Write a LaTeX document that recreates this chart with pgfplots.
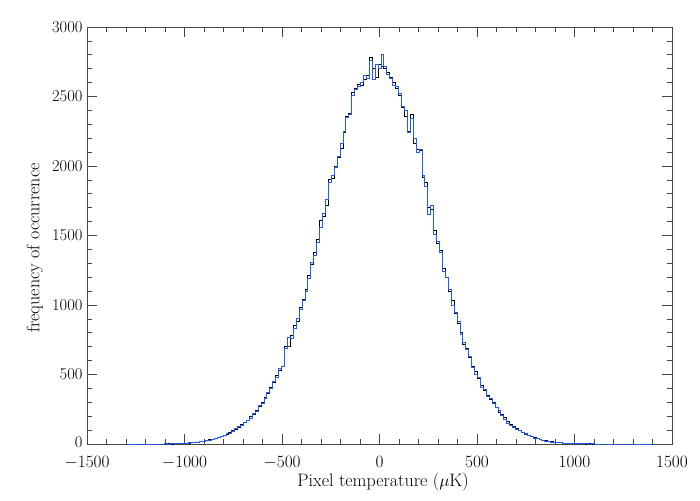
\documentclass[border=0pt]{standalone}
\usepackage{pgfplots}
\pgfplotsset{compat=1.18}
\definecolor{histBlue}{RGB}{30,90,255}
\definecolor{axGray}{RGB}{70,70,70}

% black histogram: bin centre, count
\pgfplotstableread{
x y
-1110 0
-1095 0
-1080 1
-1065 0
-1050 1
-1035 2
-1020 2
-1005 3
-990 5
-975 7
-960 10
-945 12
-930 15
-915 18
-900 20
-885 24
-870 30
-855 35
-840 40
-825 47
-810 53
-795 62
-780 70
-765 80
-750 95
-735 106
-720 118
-705 138
-690 152
-675 170
-660 195
-645 214
-630 245
-615 268
-600 300
-585 335
-570 362
-555 405
-540 440
-525 492
-510 530
-495 556
-480 700
-465 705
-450 780
-435 850
-420 880
-405 980
-390 1040
-375 1110
-360 1210
-345 1290
-330 1380
-315 1470
-300 1610
-285 1640
-270 1720
-255 1900
-240 1910
-225 2000
-210 2060
-195 2130
-180 2240
-165 2360
-150 2380
-135 2530
-120 2560
-105 2590
-90 2580
-75 2620
-60 2650
-45 2780
-30 2700
-15 2640
0 2730
15 2720
30 2700
45 2670
60 2640
75 2600
90 2560
105 2510
120 2420
135 2360
150 2250
165 2370
180 2160
195 2120
210 2110
225 1920
240 1880
255 1700
270 1690
285 1540
300 1440
315 1390
330 1260
345 1200
360 1100
375 1030
390 940
405 870
420 800
435 720
450 690
465 620
480 560
495 520
510 470
525 420
540 385
555 350
570 320
585 300
600 260
615 230
630 210
645 190
660 160
675 140
690 125
705 110
720 98
735 82
750 72
765 62
780 52
795 45
810 38
825 33
840 28
855 24
870 20
885 17
900 14
915 11
930 9
945 7
960 6
975 4
990 3
1005 3
1020 2
1035 1
1050 1
1065 0
1080 1
1095 0
1110 0
}\blackhist

% blue histogram: bin centre, count
\pgfplotstableread{
x y
-1290 0
-1110 0
-1095 1
-1080 0
-1065 1
-1050 2
-1035 1
-1020 3
-1005 4
-990 6
-975 8
-960 9
-945 14
-930 13
-915 17
-900 22
-885 27
-870 28
-855 33
-840 43
-825 45
-810 57
-795 60
-780 74
-765 78
-750 90
-735 110
-720 124
-705 133
-690 157
-675 168
-660 186
-645 222
-630 236
-615 275
-600 292
-585 328
-570 370
-555 398
-540 452
-525 480
-510 545
-495 560
-480 690
-465 770
-450 760
-435 835
-420 900
-405 965
-390 1030
-375 1100
-360 1190
-345 1310
-330 1360
-315 1450
-300 1560
-285 1660
-270 1760
-255 1880
-240 1930
-225 1990
-210 2070
-195 2160
-180 2250
-165 2350
-150 2370
-135 2510
-120 2550
-105 2575
-90 2600
-75 2650
-60 2630
-45 2760
-30 2620
-15 2730
0 2700
15 2800
30 2720
45 2660
60 2630
75 2580
90 2570
105 2520
120 2430
135 2400
150 2240
165 2340
180 2200
195 2100
210 2120
225 1930
240 1850
255 1650
270 1720
285 1510
300 1460
315 1380
330 1240
345 1200
360 1110
375 1000
390 950
405 880
420 790
435 730
450 680
465 630
480 550
495 500
510 480
525 410
540 390
555 340
570 330
585 290
600 265
615 240
630 205
645 180
660 150
675 135
690 120
705 104
720 95
735 80
750 74
765 60
780 55
795 43
810 40
825 30
840 27
855 22
870 20
885 15
900 13
915 12
930 8
945 7
960 5
975 5
990 4
1005 2
1020 2
1035 1
1050 1
1065 1
1080 0
1095 1
1110 0
1395 0
}\bluehist

\begin{document}
\begin{tikzpicture}
\begin{axis}[
  scale only axis, width=585pt, height=417pt,
  xmin=-1500, xmax=1500, ymin=0, ymax=3000,
  xtick={-1500,-1000,...,1500}, ytick={0,500,...,3000},
  yticklabels={\raisebox{4pt}{0},500,1000,1500,2000,2500,\raisebox{-4pt}{3000}},
  minor tick num=4,
  tick align=inside,
  major tick length=10pt, minor tick length=5pt,
  axis line style={axGray, line width=0.6pt},
  every tick/.style={axGray, line width=0.6pt},
  /pgf/number format/1000 sep={},
  ticklabel style={font=\fontsize{16.5}{18}\selectfont},
  xticklabel style={yshift=-9pt},
  yticklabel style={xshift=-1pt},
  xlabel={Pixel temperature ($\mu$K)},
  ylabel={frequency of occurrence},
  label style={font=\fontsize{18}{20}\selectfont},
  xlabel style={at={(axis description cs:0.506,-0.092)}, anchor=center},
  ylabel style={at={(axis description cs:-0.089,0.47)}, anchor=center},
]
\addplot[black, line width=0.8pt, const plot mark mid] table[x=x,y=y] {\blackhist};
\addplot[histBlue, line width=0.8pt, const plot mark mid] table[x=x,y=y] {\bluehist};
\end{axis}
\useasboundingbox ([shift={(-87pt,-56pt)}]current axis.south west) rectangle ([shift={(28pt,27pt)}]current axis.north east);
\end{tikzpicture}
\end{document}
